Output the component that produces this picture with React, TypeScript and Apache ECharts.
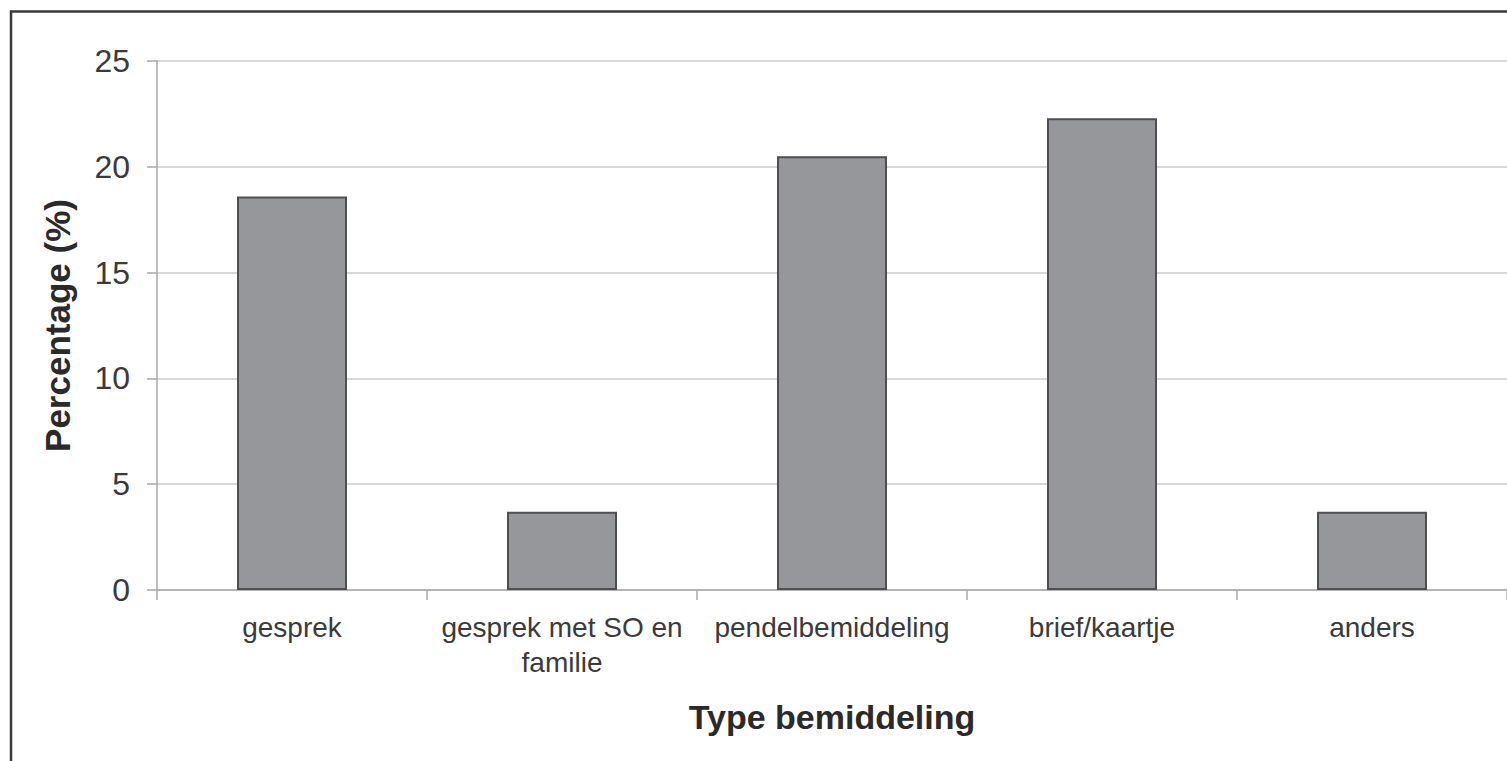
import React, { useEffect, useRef } from "react";
import * as echarts from "echarts";

const categories = [
  "gesprek",
  "gesprek met SO en\nfamilie",
  "pendelbemiddeling",
  "brief/kaartje",
  "anders",
];
const percentages = [18.6, 3.7, 20.5, 22.3, 3.7];
const yTicks = { min: 0, max: 25, interval: 5 };
const xTitle = "Type bemiddeling";
const yTitle = "Percentage (%)";

const FONT = "'Liberation Sans', Arial, sans-serif";

export default function App() {
  const ref = useRef<HTMLDivElement>(null);
  useEffect(() => {
    if (!ref.current) return;
    const chart = echarts.init(ref.current, null, { renderer: "svg" });
    chart.setOption({
      animation: false,
      backgroundColor: "#ffffff",
      textStyle: { fontFamily: FONT },
      graphic: [
        {
          type: "rect",
          shape: { x: 11, y: 11.5, width: 1700, height: 900 },
          style: { fill: "none", stroke: "#3a3a3a", lineWidth: 2.5 },
          silent: true,
          z: 100,
        },
      ],
      grid: { left: 157, top: 61, width: 1353, height: 529 },
      xAxis: {
        type: "category",
        data: categories,
        name: xTitle,
        nameLocation: "middle",
        nameGap: 110,
        nameTextStyle: {
          fontFamily: FONT,
          fontSize: 34,
          fontWeight: "bold",
          color: "#2a2a2a",
        },
        axisLine: { show: true, lineStyle: { color: "#a8a8a8", width: 1.5 } },
        axisTick: {
          show: true,
          length: 10,
          alignWithLabel: false,
          lineStyle: { color: "#a8a8a8", width: 1.5 },
        },
        axisLabel: {
          interval: 0,
          margin: 20,
          fontFamily: FONT,
          fontSize: 28,
          lineHeight: 35,
          color: "#3a3a3a",
        },
        splitLine: { show: false },
      },
      yAxis: {
        type: "value",
        min: yTicks.min,
        max: yTicks.max,
        interval: yTicks.interval,
        name: yTitle,
        nameLocation: "middle",
        nameGap: 82,
        nameTextStyle: {
          fontFamily: FONT,
          fontSize: 35,
          fontWeight: "bold",
          color: "#2a2a2a",
        },
        axisLine: { show: true, lineStyle: { color: "#a8a8a8", width: 1.5 } },
        axisTick: {
          show: true,
          inside: false,
          length: 10,
          lineStyle: { color: "#a8a8a8", width: 1.5 },
        },
        axisLabel: {
          margin: 27,
          fontFamily: FONT,
          fontSize: 32,
          color: "#3a3a3a",
        },
        splitLine: { show: true, lineStyle: { color: "#cbcbcb", width: 1.5 } },
      },
      series: [
        {
          type: "bar",
          data: percentages,
          barWidth: 110,
          itemStyle: {
            color: "#96979b",
            borderColor: "#4f4f4f",
            borderWidth: 2,
          },
        },
      ],
    });
    return () => chart.dispose();
  }, []);
  return (
    <div
      style={{
        position: "fixed",
        left: 0,
        top: 0,
        width: 1507,
        height: 761,
        overflow: "hidden",
        background: "#fff",
      }}
    >
      <div ref={ref} style={{ width: 1507, height: 761 }} />
    </div>
  );
}
